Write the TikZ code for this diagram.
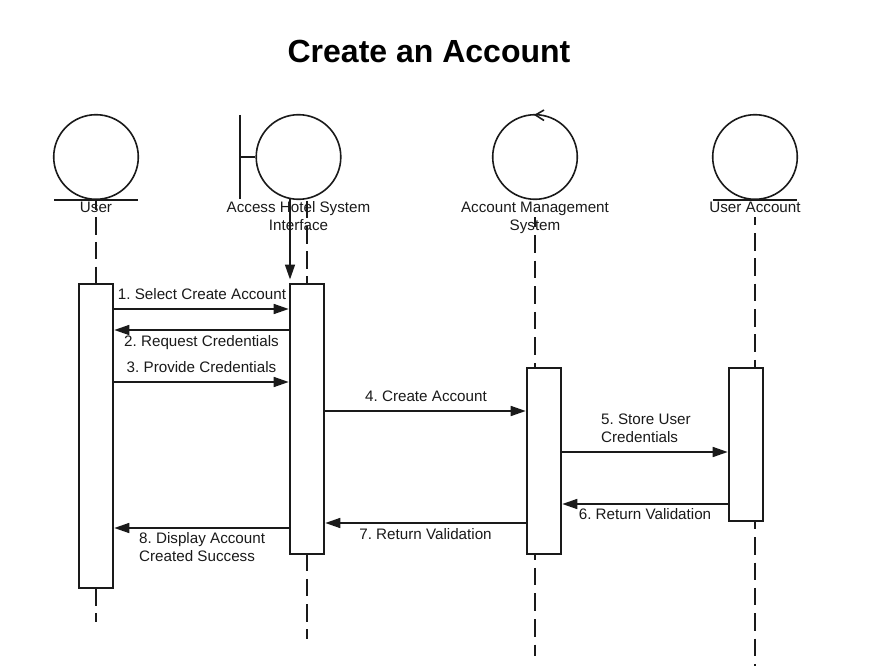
\documentclass[tikz,border=0pt]{standalone}
\usepackage{fontspec}
\setmainfont{Liberation Sans}
\usetikzlibrary{arrows.meta}
\definecolor{ink}{HTML}{1A1A1A}
\begin{document}
\frenchspacing
\begin{tikzpicture}[x=1pt,y=-1pt,
  shp/.style={draw=ink,line width=1.6pt},
  bar/.style={draw=ink,fill=white,line width=1.6pt,inner sep=0pt,anchor=north west},
  life/.style={draw=ink,line width=1.6pt},
  msg/.style={draw=ink,line width=1.6pt,-{Triangle[length=15pt,width=10pt]},shorten >=0.5pt},
  txt/.style={font=\fontsize{15.2pt}{18pt}\selectfont,inner sep=0pt,align=center,text=ink},
  ltxt/.style={txt,align=left},
  circ/.style={circle,draw=ink,line width=1.6pt,minimum size=84.6pt,inner sep=0pt}]
\useasboundingbox (0,0) rectangle (878,666);
\node[inner sep=0pt,font=\bfseries\fontsize{32pt}{38pt}\selectfont] (title) at (429,51.5) {Create an Account};
\coordinate (l1a) at (96,199); \coordinate (l1b) at (96,622);
\coordinate (l2a) at (307,199); \coordinate (l2b) at (307,638.5);
\coordinate (l3a) at (535,217); \coordinate (l3b) at (535,656);
\coordinate (l4a) at (755,217); \coordinate (l4b) at (755,666);
\draw[life,dash pattern=on 17.5pt off 7.25pt,dash phase=6.75pt] (l1a)--(l1b);
\draw[life,dash pattern=on 17.5pt off 7.7pt,dash phase=23.4pt] (l2a)--(l2b);
\draw[life,dash pattern=on 17.5pt off 8.1pt,dash phase=7.6pt] (l3a)--(l3b);
\draw[life,dash pattern=on 17.5pt off 7.85pt,dash phase=9.35pt] (l4a)--(l4b);
\node[circ] (c1) at (96,157) {};
\node[circ] (c2) at (298.5,157) {};
\node[circ] (c3) at (535,157) {};
\node[circ] (c4) at (755,157) {};
\coordinate (u1) at (54,200); \coordinate (u2) at (138,200);
\draw[shp] (u1)--(u2);
\coordinate (u3) at (713,200); \coordinate (u4) at (797,200);
\draw[shp] (u3)--(u4);
\coordinate (b1) at (240,115); \coordinate (b2) at (240,199); \coordinate (b3) at (240,157);
\draw[shp] (b1)--(b2); \draw[shp] (b3)--(c2.west);
\coordinate (a1) at (544,110); \coordinate (a2) at (535.5,115); \coordinate (a3) at (544,120.5);
\draw[shp] (a1)--(a2)--(a3);
\node[txt] (n1) at (96,207) {User};
\node[txt] (n2) at (298.5,216) {Access Hotel System\\Interface};
\node[txt] (n3) at (535,218) {Account Management\\System};
\node[txt] (n4) at (755,207) {User Account};
\coordinate (ar) at (290,199);
\coordinate (arb) at (290,280);
\node[bar,minimum width=34pt,minimum height=304pt] (A) at (78.2,283.2) {};
\node[bar,minimum width=34pt,minimum height=270pt] (B) at (289.2,283.2) {};
\node[bar,minimum width=34pt,minimum height=186pt] (C) at (526.2,367.2) {};
\node[bar,minimum width=34pt,minimum height=153pt] (D) at (728.2,367.2) {};
\draw[msg] (ar)--(arb);
\draw[msg] (A.north east|-0,309)--(B.north west|-0,309);
\draw[msg] (B.north west|-0,330)--(A.north east|-0,330);
\draw[msg] (A.north east|-0,382)--(B.north west|-0,382);
\draw[msg] (B.north east|-0,411)--(C.north west|-0,411);
\draw[msg] (C.north east|-0,452)--(D.north west|-0,452);
\draw[msg] (D.north west|-0,504)--(C.north east|-0,504);
\draw[msg] (C.north west|-0,523)--(B.north east|-0,523);
\draw[msg] (B.north west|-0,528)--(A.north east|-0,528);
\node[txt] (m1) at (202,294) {1. Select Create Account};
\node[txt] (m2) at (201.5,343) {2. Request Credentials};
\node[txt] (m3) at (201.5,367) {3. Provide Credentials};
\node[txt] (m4) at (426,396) {4. Create Account};
\node[ltxt,anchor=west] (m5) at (601,428) {5. Store User\\Credentials};
\node[txt] (m6) at (645,514) {6. Return Validation};
\node[txt] (m7) at (425.5,534) {7. Return Validation};
\node[ltxt,anchor=west] (m8) at (139,547) {8. Display Account\\Created Success};
\end{tikzpicture}
\end{document}
